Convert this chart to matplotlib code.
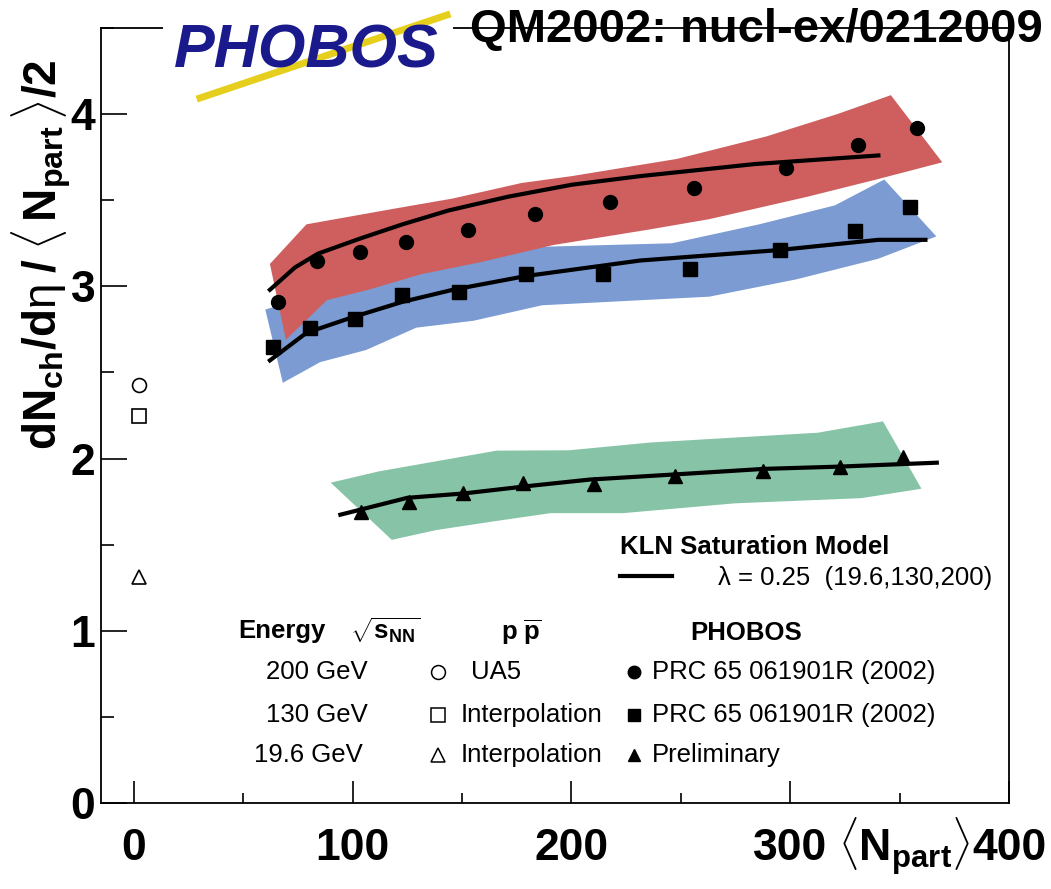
import matplotlib
matplotlib.use("Agg")
import matplotlib.pyplot as plt
from matplotlib.patches import Polygon, Rectangle
from matplotlib.lines import Line2D
from matplotlib.ticker import MultipleLocator

plt.rcParams['font.family'] = ['Liberation Sans', 'DejaVu Sans']
plt.rcParams['mathtext.fontset'] = 'custom'
plt.rcParams['mathtext.rm'] = 'Liberation Sans'
plt.rcParams['mathtext.it'] = 'Liberation Sans:italic'
plt.rcParams['mathtext.bf'] = 'Liberation Sans:bold'
plt.rcParams['mathtext.sf'] = 'Liberation Sans'

# PHOBOS Au+Au data, dN/deta per participant pair
npart_200 = [65.8, 83.7, 103.6, 124.5, 152.7, 183.5, 217.5, 256.0, 298.0, 330.9, 358.0]
dndeta_200 = [2.91, 3.15, 3.20, 3.26, 3.33, 3.42, 3.49, 3.57, 3.69, 3.82, 3.92]

npart_130 = [63.7, 80.6, 100.9, 122.8, 148.5, 179.3, 214.4, 254.1, 295.3, 329.8, 354.9]
dndeta_130 = [2.65, 2.76, 2.81, 2.95, 2.97, 3.07, 3.07, 3.10, 3.21, 3.32, 3.46]

npart_19 = [103.7, 125.6, 150.6, 178.1, 210.3, 247.3, 287.6, 322.7, 351.6]
dndeta_19 = [1.69, 1.75, 1.80, 1.86, 1.85, 1.90, 1.93, 1.95, 2.01]

# p-pbar reference (Npart = 2)
pp_npart = 2.3
pp_200 = 2.43
pp_130 = 2.25
pp_19 = 1.31

# systematic error bands (polygon outlines)
band_200_x = [62.2, 78.9, 118.6, 145.8, 177.2, 200.2, 248.3, 289.0, 321.5, 346.0, 369.5,
              339.3, 307.8, 263.0, 235.6, 191.8, 158.4, 131.2, 107.2, 88.3, 69.5]
band_200_y = [3.13, 3.36, 3.45, 3.51, 3.60, 3.64, 3.74, 3.87, 4.00, 4.11, 3.72,
              3.62, 3.52, 3.39, 3.33, 3.24, 3.14, 3.07, 2.98, 2.92, 2.69]

band_130_x = [60.1, 95.7, 137.5, 187.7, 246.0, 285.8, 320.4, 343.0, 366.8,
              340.2, 302.6, 263.0, 186.6, 155.2, 129.1, 106.1, 85.2, 68.1]
band_130_y = [2.865, 3.0, 3.12, 3.23, 3.25, 3.36, 3.47, 3.62, 3.29,
              3.16, 3.04, 2.94, 2.89, 2.80, 2.76, 2.63, 2.56, 2.44]

band_19_x = [90.0, 111.8, 165.8, 199.0, 235.9, 312.6, 342.4, 360.0,
             332.5, 274.7, 223.6, 190.4, 164.8, 138.3, 117.9]
band_19_y = [1.86, 1.925, 2.046, 2.048, 2.093, 2.15, 2.216, 1.825,
             1.77, 1.74, 1.683, 1.683, 1.636, 1.585, 1.528]

# KLN saturation model curves
kln_200_x = [62.2, 73.7, 84.2, 104.0, 122.8, 143.7, 170.9, 200.2, 231.5, 283.8, 340.3]
kln_200_y = [2.98, 3.11, 3.19, 3.28, 3.36, 3.44, 3.52, 3.59, 3.64, 3.71, 3.76]
kln_130_x = [62.2, 78.9, 99.8, 122.8, 145.8, 179.3, 231.5, 294.3, 340.3, 361.8]
kln_130_y = [2.57, 2.73, 2.82, 2.91, 2.98, 3.06, 3.15, 3.21, 3.27, 3.27]
kln_19_x = [94.4, 125.0, 150.6, 180.0, 208.4, 246.3, 288.0, 322.0, 367.0]
kln_19_y = [1.674, 1.772, 1.797, 1.84, 1.878, 1.907, 1.94, 1.953, 1.976]

red = '#cf5f5f'
blue = '#7b9bd2'
green = '#86c3a7'

fig = plt.figure(figsize=(10.51, 8.89), dpi=100)
ax = fig.add_axes([101 / 1051, 1 - 803 / 889, 908 / 1051, 775 / 889])
ax.set_xlim(-15, 400)
ax.set_ylim(0, 4.5)

ax.add_patch(Polygon(list(zip(band_130_x, band_130_y)), closed=True, fc=blue, ec='none', zorder=1))
ax.add_patch(Polygon(list(zip(band_200_x, band_200_y)), closed=True, fc=red, ec='none', zorder=1.1))
ax.add_patch(Polygon(list(zip(band_19_x, band_19_y)), closed=True, fc=green, ec='none', zorder=1))

for cx, cy in [(kln_200_x, kln_200_y), (kln_130_x, kln_130_y), (kln_19_x, kln_19_y)]:
    ax.plot(cx, cy, color='black', lw=3.0, zorder=3)

ax.plot(npart_200, dndeta_200, 'o', color='black', ms=10, zorder=4)
ax.plot(npart_130, dndeta_130, 's', color='black', ms=9.5, zorder=4)
ax.plot(npart_19, dndeta_19, '^', color='black', ms=10, zorder=4)

ax.plot([pp_npart], [pp_200], 'o', mfc='white', mec='black', mew=1.2, ms=10, zorder=4)
ax.plot([pp_npart], [pp_130], 's', mfc='white', mec='black', mew=1.2, ms=9.5, zorder=4)
ax.plot([pp_npart], [pp_19], '^', mfc='white', mec='black', mew=1.2, ms=10, zorder=4)

# axes styling
for side in ['left', 'bottom', 'top', 'right']:
    ax.spines[side].set_linewidth(1.3)
ax.xaxis.set_major_locator(MultipleLocator(100))
ax.xaxis.set_minor_locator(MultipleLocator(50))
ax.yaxis.set_major_locator(MultipleLocator(1))
ax.yaxis.set_minor_locator(MultipleLocator(0.5))
ax.tick_params(axis='x', which='major', direction='in', length=16, width=1.2, pad=18,
               labelsize=32, top=False)
ax.tick_params(axis='x', which='minor', direction='in', length=7, width=1.2, top=False)
ax.tick_params(axis='y', which='major', direction='in', length=19, width=1.2, pad=4,
               labelsize=32, right=False)
ax.tick_params(axis='y', which='minor', direction='in', length=9.5, width=1.2, right=False)
for lab in ax.get_xticklabels() + ax.get_yticklabels():
    lab.set_fontweight('bold')

# legend block
fs = 18.5
ax.text(222.4, 1.486, 'KLN Saturation Model', fontsize=fs, fontweight='bold', va='center')
ax.plot([222.4, 246.0], [1.317, 1.317], color='black', lw=3.0)
ax.text(267, 1.306, 'λ = 0.25  (19.6,130,200)', fontsize=fs, va='center')

ax.text(47.9, 0.998, 'Energy', fontsize=fs, fontweight='bold', va='center')
ax.text(99, 0.998, r'$\sqrt{\mathbf{s}_{\mathbf{NN}}}$', fontsize=fs, va='center')
ax.text(167.6, 0.99, r'$\mathbf{p}\ \overline{\mathbf{p}}$', fontsize=fs, va='center')
ax.text(254.3, 0.99, 'PHOBOS', fontsize=fs, fontweight='bold', va='center')

rows_y = [0.760, 0.511, 0.279]
energies = ['200 GeV', '130 GeV', '19.6 GeV']
energy_x = [60.3, 60.3, 54.8]
pp_labels = ['UA5', 'Interpolation', 'Interpolation']
pp_label_x = [153.9, 149.3, 149.3]
phobos_labels = ['PRC 65 061901R (2002)', 'PRC 65 061901R (2002)', 'Preliminary']
markers = ['o', 's', '^']
msizes = [10, 9.5, 10]
for i in range(3):
    ax.text(energy_x[i], rows_y[i], energies[i], fontsize=fs, va='center')
    ax.plot([138.8], [rows_y[i]], markers[i], mfc='white', mec='black', mew=1.1, ms=msizes[i])
    ax.text(pp_label_x[i], rows_y[i], pp_labels[i], fontsize=fs, va='center')
    ax.plot([228.8], [rows_y[i]], markers[i], color='black', ms=msizes[i] - 1)
    ax.text(237, rows_y[i], phobos_labels[i], fontsize=fs, va='center')

# axis titles
fig.text(41 / 1051, 1 - 255 / 889,
         r'$\mathbf{dN_{ch}/d}\mathrm{\eta}\;\mathbf{/}\;\langle\,\mathbf{N_{part}}\,\rangle\mathbf{/2}$',
         fontsize=33, rotation=90, ha='center', va='center')
fig.text(904 / 1051, 1 - 862 / 889, r'$\langle\mathbf{N_{part}}\rangle$',
         fontsize=32, ha='center', va='baseline')

# header: experiment logo and reference
fig.add_artist(Rectangle((163 / 1051, 1 - 102 / 889), 290 / 1051, 102 / 889,
                         transform=fig.transFigure, fc='white', ec='none', zorder=5))
fig.add_artist(Line2D([200 / 1051, 447 / 1051], [1 - 98 / 889, 1 - 15 / 889],
                      transform=fig.transFigure, color='#e6cf1c', lw=5, zorder=6))
fig.text(306 / 1051, 1 - 52 / 889, 'PHOBOS', fontsize=44, color='#1a1a8c',
         fontweight='bold', fontstyle='italic', ha='center', va='center', zorder=7)
fig.text(470 / 1051, 1 - 30 / 889, 'QM2002: nucl-ex/0212009', fontsize=34,
         fontweight='bold', ha='left', va='center', zorder=7)

fig.savefig('out.png', dpi=100)
